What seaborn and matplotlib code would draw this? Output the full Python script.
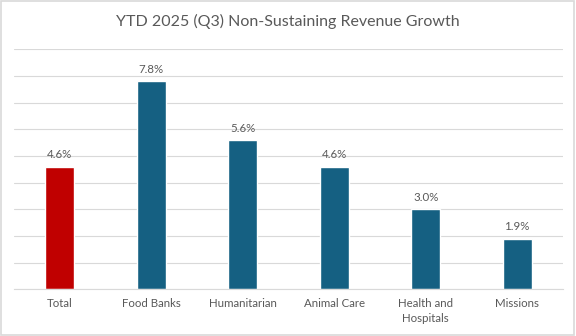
import matplotlib
matplotlib.use("Agg")
import matplotlib.pyplot as plt
import seaborn as sns
import pandas as pd

categories = ["Total", "Food Banks", "Humanitarian", "Animal Care", "Health and\nHospitals", "Missions"]
growth = [4.6, 7.8, 5.6, 4.6, 3.0, 1.9]
bar_colors = ["#C00000", "#156082", "#156082", "#156082", "#156082", "#156082"]
title = "YTD 2025 (Q3) Non-Sustaining Revenue Growth"

df = pd.DataFrame({"category": categories, "growth": growth})

sns.set_theme(style="white")
plt.rcParams["font.family"] = ["Lato", "DejaVu Sans"]

fig = plt.figure(figsize=(5.76, 3.36), dpi=100)
ax = fig.add_axes([0.0243, 0.139, 0.953, 0.714])

sns.barplot(data=df, x="category", y="growth", hue="category", palette=bar_colors,
            legend=False, width=0.32, ax=ax, saturation=1)

ax.set_ylim(0, 9)
ax.set_yticks(range(0, 10))
ax.yaxis.grid(True, color="#D9D9D9", linewidth=0.8)
ax.set_axisbelow(True)
ax.set_yticklabels([])
ax.tick_params(axis="y", length=0)
ax.tick_params(axis="x", length=0, pad=6, labelsize=8.3, labelcolor="#595959")
for lbl in ax.get_xticklabels():
    lbl.set_linespacing(1.45)
ax.set_xlabel("")
ax.set_ylabel("")
for s in ["top", "right", "left"]:
    ax.spines[s].set_visible(False)
ax.spines["bottom"].set_color("#D9D9D9")
ax.spines["bottom"].set_linewidth(0.8)

for i, v in enumerate(growth):
    ax.annotate(f"{v:.1f}%", (i, v), xytext=(0, 4.5), textcoords="offset points",
                ha="center", va="bottom", fontsize=8.3, color="#595959")

fig.text(0.5, 0.935, title, ha="center", va="center", fontsize=11.5, color="#595959")

border = plt.Rectangle((0.002, 0.003), 0.995, 0.994, transform=fig.transFigure,
                       fill=False, edgecolor="#D9D9D9", linewidth=1.2)
fig.patches.append(border)

fig.savefig("out.png", dpi=100, facecolor="white")
